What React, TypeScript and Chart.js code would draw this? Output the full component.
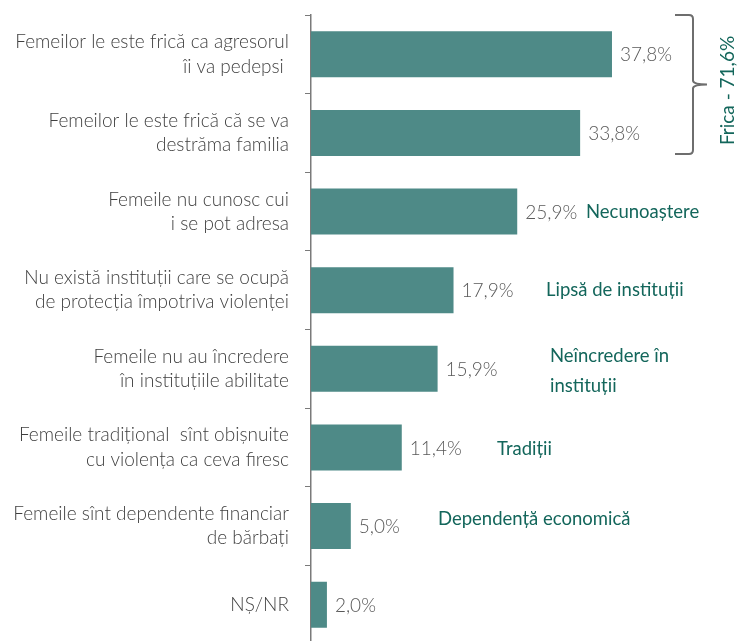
import React, { useEffect, useRef } from 'react';
import { Chart, registerables } from 'chart.js';

Chart.register(...registerables);

const categories: string[][] = [
  ['Femeilor le este frică ca agresorul', 'îi va pedepsi '],
  ['Femeilor le este frică că se va', 'destrăma familia'],
  ['Femeile nu cunosc cui', 'i se pot adresa'],
  ['Nu există instituții care se ocupă', 'de protecția împotriva violenței'],
  ['Femeile nu au încredere', 'în instituțiile abilitate'],
  ['Femeile tradițional  sînt obișnuite', 'cu violența ca ceva firesc'],
  ['Femeile sînt dependente financiar', 'de bărbați'],
  ['NȘ/NR'],
];

const values: number[] = [37.8, 33.8, 25.9, 17.9, 15.9, 11.4, 5.0, 2.0];

const groupLabels: string[][] = [
  [],
  [],
  ['Necunoaștere'],
  ['Lipsă de instituții'],
  ['Neîncredere în', 'instituții'],
  ['Tradiții'],
  ['Dependență economică'],
  [],
];

const bracketLabel = 'Frica - 71,6%';

const BAR_COLOR = '#4e8a87';
const TEAL_TEXT = '#13665b';
const FONT = 'Lato, "Open Sans", sans-serif';

// layout of the group annotations (pixel offsets from chart area left, vertical shift)
const groupOffsetX = [0, 0, 275, 235, 239, 186, 127, 0];
const groupShiftY = [0, 0, 0, 0, 2, 2, -7, 0];

const fmt = (v: number) => v.toFixed(1).replace('.', ',') + '%';

const annotationPlugin = {
  id: 'annotations',
  afterDatasetsDraw(chart: any) {
    const ctx = chart.ctx as CanvasRenderingContext2D;
    const meta = chart.getDatasetMeta(0);
    const area = chart.chartArea;
    ctx.save();
    // value labels
    ctx.font = `300 19px ${FONT}`;
    ctx.fillStyle = '#595959';
    ctx.textAlign = 'left';
    ctx.textBaseline = 'middle';
    meta.data.forEach((bar: any, i: number) => {
      ctx.fillText(fmt(values[i]), bar.x + 8, bar.y + 1);
    });
    // group labels
    ctx.font = `400 18.5px ${FONT}`;
    ctx.fillStyle = TEAL_TEXT;
    meta.data.forEach((bar: any, i: number) => {
      const lines = groupLabels[i];
      if (!lines.length) return;
      const lh = 30;
      const y0 = bar.y + groupShiftY[i] - ((lines.length - 1) * lh) / 2;
      lines.forEach((t, k) => {
        ctx.fillText(t, area.left + groupOffsetX[i], y0 + k * lh);
      });
    });
    // bracket around first two bars
    const b1 = meta.data[1];
    const top = area.top;
    const bottom = b1.y + b1.height / 2 - 2;
    const mid = (top + bottom) / 2;
    const xl = 675;
    const xv = 693;
    const xt = 707;
    const r = 4;
    ctx.strokeStyle = '#6e6e6e';
    ctx.lineWidth = 2;
    ctx.beginPath();
    ctx.moveTo(xl, top);
    ctx.lineTo(xv - r, top);
    ctx.quadraticCurveTo(xv, top, xv, top + r);
    ctx.lineTo(xv, mid - r);
    ctx.quadraticCurveTo(xv, mid, xt, mid);
    ctx.quadraticCurveTo(xv, mid, xv, mid + r);
    ctx.lineTo(xv, bottom - r);
    ctx.quadraticCurveTo(xv, bottom, xv - r, bottom);
    ctx.lineTo(xl, bottom);
    ctx.stroke();
    // rotated label
    ctx.translate(728, mid + 6);
    ctx.rotate(-Math.PI / 2);
    ctx.font = `400 19px ${FONT}`;
    ctx.fillStyle = TEAL_TEXT;
    ctx.textAlign = 'center';
    ctx.textBaseline = 'middle';
    ctx.fillText(bracketLabel, 0, 0);
    ctx.restore();
  },
};

export default function App() {
  const ref = useRef<HTMLCanvasElement | null>(null);

  useEffect(() => {
    if (!ref.current) return;
    const chart = new Chart(ref.current, {
      type: 'bar',
      data: {
        labels: categories,
        datasets: [
          {
            data: values,
            backgroundColor: BAR_COLOR,
            borderWidth: 0,
            barPercentage: 0.585,
            categoryPercentage: 1,
          },
        ],
      },
      options: {
        indexAxis: 'y',
        responsive: false,
        animation: false,
        devicePixelRatio: 1,
        layout: { padding: { top: 15, right: 108.5, bottom: 0, left: 0 } },
        plugins: {
          legend: { display: false },
          tooltip: { enabled: false },
        },
        scales: {
          x: {
            display: false,
            min: 0,
            max: 40,
          },
          y: {
            afterFit(scale: any) {
              scale.width = 311;
              scale.paddingTop = 0;
              scale.paddingBottom = 0;
            },
            grid: {
              offset: true,
              drawOnChartArea: false,
              drawTicks: true,
              tickLength: 6,
              color: '#7a7a7a',
              lineWidth: 1,
            },
            border: { display: true, color: '#7a7a7a', width: 1.5 },
            ticks: {
              padding: 16,
              color: '#3f3f3f',
              font: { family: FONT, size: 19, weight: 300 as any, lineHeight: 1.27 },
            },
          },
        },
      },
      plugins: [annotationPlugin],
    });
    return () => chart.destroy();
  }, []);

  return (
    <div
      style={{
        position: 'fixed',
        left: 0,
        top: 0,
        width: 738,
        height: 641,
        overflow: 'hidden',
        background: '#ffffff',
      }}
    >
      <canvas ref={ref} width={738} height={644} style={{ display: 'block' }} />
    </div>
  );
}
